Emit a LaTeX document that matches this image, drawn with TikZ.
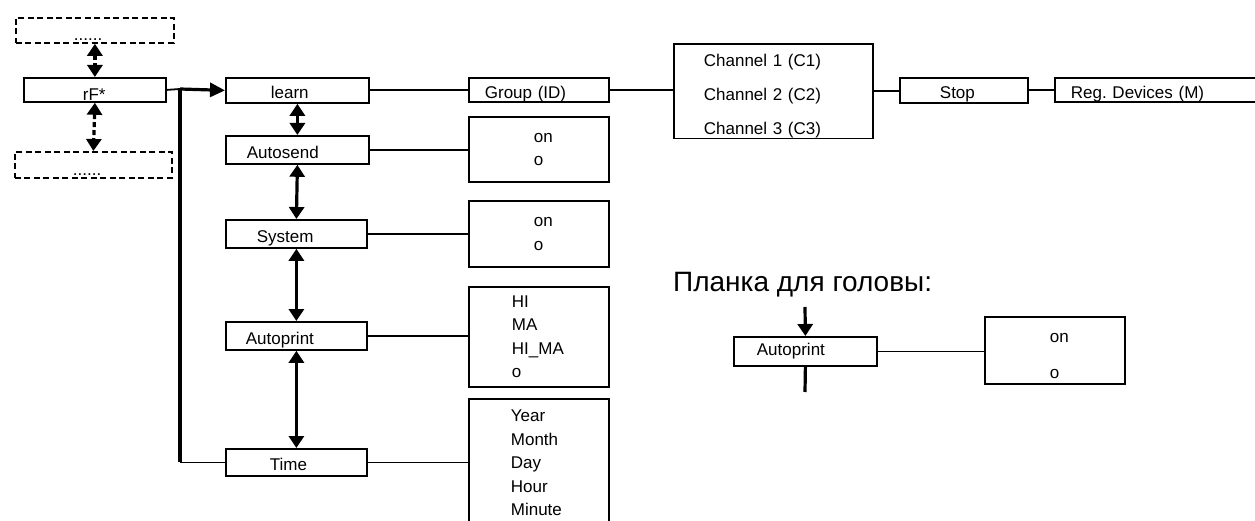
\documentclass[tikz,border=0pt]{standalone}
\usepackage{fontspec}
\setmainfont{Liberation Sans}
\usetikzlibrary{arrows.meta}
\begin{document}
\frenchspacing
\begin{tikzpicture}[x=1pt, y=-1pt, font=\fontsize{17}{23.5}\selectfont,
    >={Triangle[width=15pt, length=12pt]},
    menubox/.style={draw, line width=1.8pt, inner sep=0pt, anchor=north west,
        align=left, text height=20.5pt, text depth=3.5pt},
    ghostbox/.style={menubox, dash pattern=on 6pt off 3.5pt},
    optbox/.style={draw, line width=1.8pt, inner sep=0pt, anchor=north west, align=left},
    link/.style={line width=1.8pt},
    trunk/.style={line width=3.2pt},
    updown/.style={trunk, <->}]
    \useasboundingbox (0,0) rectangle (1255,521);

    \node[ghostbox, minimum width=158pt, minimum height=25pt, text width=42pt,
        text height=22.5pt, text depth=2.5pt] (ghosttop) at (15,17) {......};
    \node[menubox, minimum width=142pt, minimum height=24pt, text width=24pt,
        text height=22.5pt, text depth=1.5pt] (rf) at (23,77) {rF*};
    \node[ghostbox, minimum width=157pt, minimum height=26pt, text width=41pt,
        text height=24pt, text depth=2pt] (ghostbot) at (14,151) {......};

    \node[menubox, minimum width=143pt, minimum height=25pt, text width=53pt] (learn) at (225,77) {learn};
    \node[menubox, minimum width=143pt, minimum height=28pt, text width=101pt] (autosend) at (225,135) {Autosend};
    \node[menubox, minimum width=141pt, minimum height=28pt, text width=79pt] (system) at (225,219) {System};
    \node[menubox, minimum width=141pt, minimum height=28pt, text width=101pt] (autoprint) at (225,321) {Autoprint};
    \node[menubox, minimum width=141pt, minimum height=27pt, text width=53pt] (time) at (225,448) {Time};

    \node[menubox, minimum width=140pt, minimum height=24pt, text width=108pt] (group) at (468,77) {Group (ID)};
    \node[optbox, minimum width=199pt, minimum height=94pt, text width=139pt] (channels) at (673,43)
        {\rule{0pt}{23pt}Channel 1 (C1)\\[10.5pt]Channel 2 (C2)\\[10.5pt]Channel 3 (C3)};
    \node[menubox, minimum width=128pt, minimum height=25pt, text width=48pt] (stop) at (899,77) {Stop};
    \node[menubox, minimum width=215pt, minimum height=24pt, text width=183pt] (regdev) at (1054,77) {Reg. Devices (M)};

    \node[optbox, minimum width=140pt, minimum height=65pt, text width=10pt] (sendopt) at (468,116) {on\\o};
    \node[optbox, minimum width=140pt, minimum height=66pt, text width=10pt] (sysopt) at (468,200) {on\\o};
    \node[optbox, minimum width=140pt, minimum height=100pt, text width=54pt] (printopt) at (468,286) {HI\\MA\\HI\_MA\\o};
    \node[optbox, minimum width=140pt, minimum height=128pt, text width=56pt] (timeopt) at (468,398)
        {Year\\Month\\Day\\Hour\\Minute};

    \node[anchor=base west, inner sep=0pt, font=\fontsize{28}{32}\selectfont] (headtitle) at (673,291) {Планка для головы:};
    \node[menubox, minimum width=143pt, minimum height=29pt, text width=97pt,
        text height=19pt, text depth=10pt] (headprint) at (733,336) {Autoprint};
    \node[optbox, minimum width=140pt, minimum height=67pt, text width=10pt] (headopt) at (984,316)
        {\rule{0pt}{20pt}on\\[12pt]o};

    \coordinate (fork) at (180,89);
    \draw[link] (rf.east) -- (fork);
    \draw[trunk, -{Triangle[width=14pt, length=15pt]}] (fork) -- (learn.west);
    \draw[trunk] (fork) -- (fork |- time.west);
    \draw[link] (fork |- time.west) -- (time.west);

    \draw[trunk, <->, dash pattern=on 5pt off 3pt] (ghosttop.south) -- (rf.north);
    \draw[trunk, <->, dash pattern=on 5pt off 3pt] (rf.south) -- (ghostbot.north);
    \foreach \a/\b in {learn/autosend, autosend/system, system/autoprint, autoprint/time}
        \draw[updown] (\a.south) -- (\b.north);

    \foreach \a/\b in {learn/group, group/channels, channels/stop, stop/regdev,
        autosend/sendopt, system/sysopt, autoprint/printopt, time/timeopt, headprint/headopt}
        \draw[link] (\a.east) -- (\a.east -| \b.west);

    \coordinate (headin) at (805,307);
    \coordinate (headout) at (805,392);
    \draw[trunk, ->] (headin) -- (headprint.north);
    \draw[trunk] (headprint.south) -- (headout);
\end{tikzpicture}
\end{document}
